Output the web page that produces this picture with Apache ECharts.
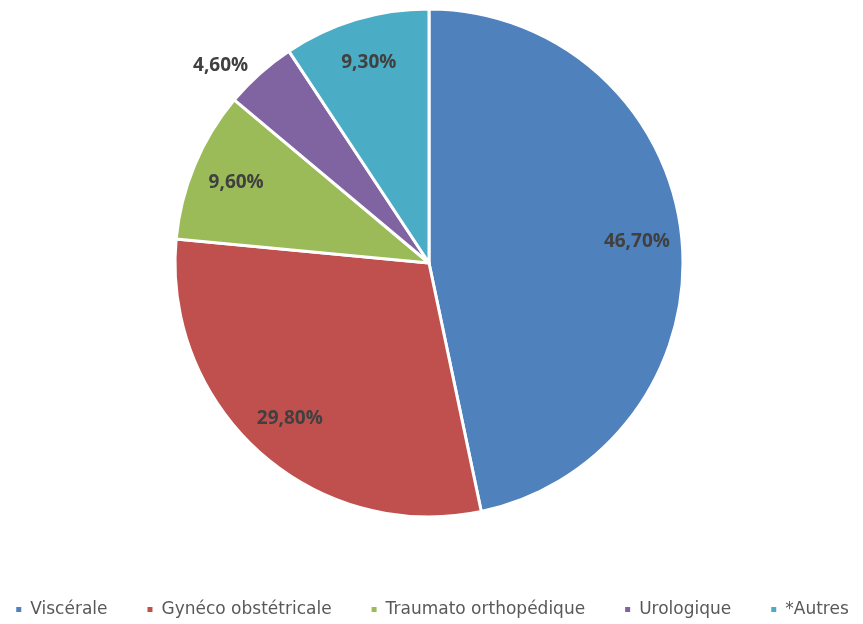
<!DOCTYPE html>
<html>
<head>
<meta charset="utf-8">
<script src="https://cdn.jsdelivr.net/npm/echarts@6/dist/echarts.min.js"></script>
<style>
html, body { margin: 0; padding: 0; background: #fff; }
#main { width: 863px; height: 624px; }
</style>
</head>
<body>
<div id="main"></div>
<script>
var categories = ['Viscérale', 'Gynéco obstétricale', 'Traumato orthopédique', 'Urologique', '*Autres'];
var values = [46.7, 29.8, 9.6, 4.6, 9.3];
var colors = ['#4F81BD', '#C0504D', '#9BBB59', '#8064A2', '#4BACC6'];
var outsideLabel = [false, false, false, true, false];

function fmt(v) {
    return v.toFixed(2).replace('.', ',') + '%';
}

var myChart = echarts.init(document.getElementById('main'));

// parts colorées
var mainData = categories.map(function (name, i) {
    return {
        name: name,
        value: values[i],
        itemStyle: { color: colors[i] },
        label: { show: outsideLabel[i] },
        labelLine: { show: false }
    };
});
// anneau transparent pour placer les étiquettes à ~80% du rayon
var labelData = categories.map(function (name, i) {
    return {
        name: name,
        value: values[i],
        label: { show: !outsideLabel[i] }
    };
});

var labelStyle = {
    color: '#404040',
    fontFamily: 'Open Sans',
    fontWeight: 'bold',
    fontSize: 19,
    formatter: function (p) { return fmt(p.value); }
};

var option = {
    animation: false,
    legend: {
        bottom: 6,
        left: 'center',
        padding: 0,
        icon: 'rect',
        itemWidth: 7,
        itemHeight: 7,
        itemGap: 38,
        data: categories,
        textStyle: { color: '#595959', fontFamily: 'DejaVu Sans', fontSize: 17, padding: [0, 0, 0, 3] }
    },
    series: [
        {
            type: 'pie',
            center: [429, 263],
            radius: 254,
            startAngle: 90,
            clockwise: true,
            data: mainData,
            itemStyle: { borderColor: '#fff', borderWidth: 3 },
            label: Object.assign({ position: 'outside' }, labelStyle),
            labelLine: { show: false, length: 10, length2: 0 },
            emphasis: { disabled: true }
        },
        {
            type: 'pie',
            center: [429, 263],
            radius: [158, 254],
            startAngle: 90,
            clockwise: true,
            silent: true,
            data: labelData,
            itemStyle: { color: 'rgba(0,0,0,0)' },
            label: Object.assign({ position: 'inside' }, labelStyle),
            labelLine: { show: false }
        }
    ]
};
myChart.setOption(option);
</script>
</body>
</html>
